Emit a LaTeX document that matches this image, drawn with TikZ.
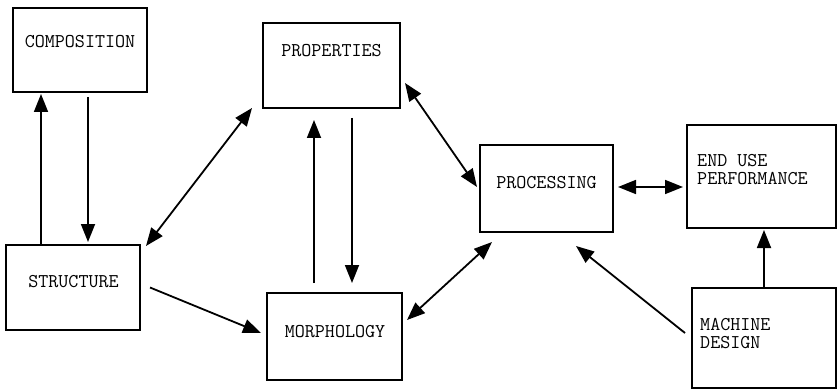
\documentclass[tikz,border=0pt]{standalone}
\usepackage{tikz}
\usetikzlibrary{arrows.meta}

\tikzset{
  blk/.style={draw, line width=1.9pt, inner sep=0pt, outer sep=0pt},
  lbl/.style={inner sep=0pt, font=\ttfamily\fontsize{19.5}{18}\selectfont, align=left},
  arr/.style={line width=1.8pt, -{Triangle[length=18pt,width=14pt]}},
  dbl/.style={line width=1.8pt, {Triangle[length=18pt,width=14pt]}-{Triangle[length=18pt,width=14pt]}}
}

\begin{document}
\begin{tikzpicture}[x=1pt,y=-1pt]
  \useasboundingbox (0,0) rectangle (837,390);
  % boxes
  \node[blk, minimum width=134pt, minimum height=84pt] (comp) at (80,50) {};
  \node[blk, minimum width=137pt, minimum height=85pt] (prop) at (331.5,65.5) {};
  \node[blk, minimum width=134pt, minimum height=85pt] (struc) at (73,287.5) {};
  \node[blk, minimum width=135pt, minimum height=87pt] (morph) at (334.5,336.5) {};
  \node[blk, minimum width=133pt, minimum height=87pt] (proc) at (546.5,188.5) {};
  \node[blk, minimum width=149pt, minimum height=103pt] (enduse) at (761.5,176.5) {};
  \node[blk, minimum width=144pt, minimum height=100pt] (mach) at (764,338) {};
  % texts
  \node[lbl, anchor=base] (compt) at (80,48) {COMPOSITION};
  \node[lbl, anchor=base] (propt) at (331.5,57) {PROPERTIES};
  \node[lbl, anchor=base] (struct) at (73.5,287) {STRUCTURE};
  \node[lbl, anchor=base] (morpht) at (335,337) {MORPHOLOGY};
  \node[lbl, anchor=base] (proct) at (546.5,188) {PROCESSING};
  \node[lbl, anchor=base west] (enduset) at (697,185) {END USE\\PERFORMANCE};
  \node[lbl, anchor=base west] (macht) at (700,348) {MACHINE\\DESIGN};
  % connectors
  \draw[arr] ([xshift=8pt,yshift=-5pt]comp.south) -- ([xshift=15pt,yshift=3pt]struc.north);
  \draw[arr] ([xshift=-32pt]struc.north) -- ([xshift=-39pt,yshift=-2pt]comp.south);
  \draw[dbl] ([xshift=6pt,yshift=-1pt]struc.north east) -- ([xshift=-11pt]prop.south west);
  \draw[arr] ([xshift=10pt]struc.east) -- ([xshift=-6pt,yshift=3.5pt]morph.west);
  \draw[arr] ([xshift=-20.5pt,yshift=10pt]morph.north) -- ([xshift=-17.5pt,yshift=-12pt]prop.south);
  \draw[arr] ([xshift=20.5pt,yshift=-10pt]prop.south) -- ([xshift=17.5pt,yshift=10pt]morph.north);
  \draw[dbl] ([xshift=5pt,yshift=-17.5pt]prop.east) -- ([xshift=-3pt,yshift=1.5pt]proc.west);
  \draw[dbl] ([xshift=5pt,yshift=16.5pt]morph.east) -- ([xshift=12pt,yshift=-10pt]proc.south west);
  \draw[dbl] ([xshift=5pt,yshift=1.5pt]proc.east) -- ([xshift=-4pt,yshift=-10.5pt]enduse.west);
  \draw[arr] ([xshift=-7pt,yshift=5pt]mach.west) -- ([xshift=29.5pt,yshift=-14pt]proc.south);
  \draw[arr, shorten >=2pt] (mach.north) -- (mach.north |- enduse.south);
\end{tikzpicture}
\end{document}
